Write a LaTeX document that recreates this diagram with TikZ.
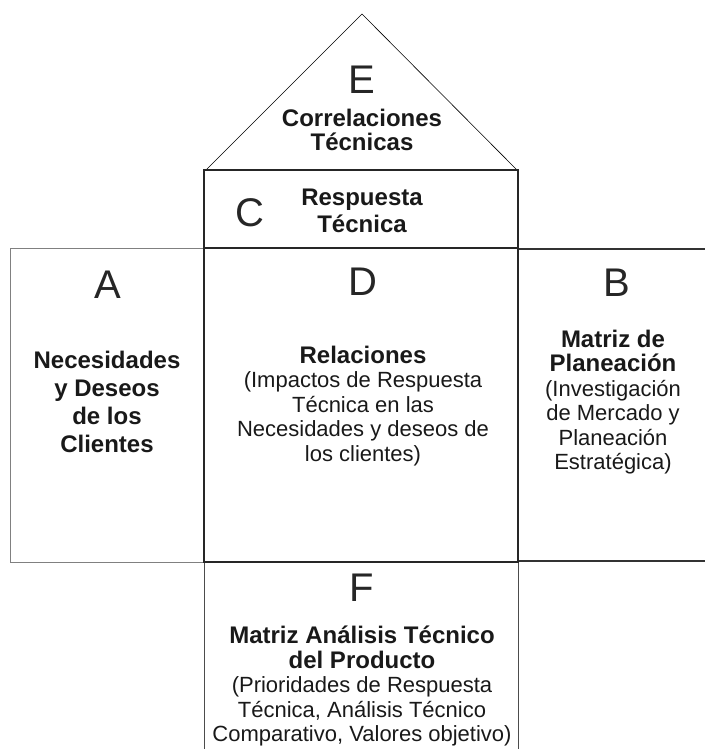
\documentclass[tikz,border=0pt]{standalone}
\usepackage{fontspec}
\setmainfont{Liberation Sans}
\newcommand{\titulo}[1]{{\bfseries\fontsize{24}{25}\selectfont #1}}
\begin{document}
\begin{tikzpicture}[x=1pt,y=-1pt,
  letra/.style={font=\fontsize{40}{40}\selectfont, text=black!85, inner sep=0pt},
  texto/.style={align=center, text=black!90, inner sep=0pt, font=\fontsize{22}{24.5}\selectfont},
  grueso/.style={draw=black!85, line width=2pt},
  medio/.style={draw=black!80, line width=1.4pt},
  fino/.style={draw=black!50, line width=1pt}]
\useasboundingbox (0,0) rectangle (705,749);

% techo
\draw[line width=0.6pt] (206,170) -- (362,14) -- (517,170);

\draw[fino] (10,248) rectangle (204,562);
\draw[medio] (518,249) -- (705,249) (518,561) -- (705,561);
\draw[draw=black!70, line width=1pt] (204,562) -- (204,749) (518,562) -- (518,749);
\draw[grueso] (204,170) rectangle (518,248);
\draw[grueso] (204,248) rectangle (518,562);

\node[letra] (E) at (362,80) {E};
\node[texto] (corr) at (362,130) {\titulo{Correlaciones}\\\titulo{Técnicas}};

\node[letra] (C) at (250,213) {C};
\node[texto] (resp) at (362,211) {\titulo{Respuesta}\\[2pt]\titulo{Técnica}};

\node[letra] (A) at (108,285) {A};
\node[texto, font=\fontsize{22}{28}\selectfont] (nec) at (107,402)
  {\titulo{Necesidades}\\\titulo{y Deseos}\\\titulo{de los}\\\titulo{Clientes}};

\node[letra] (D) at (363,282) {D};
\node[texto] (rel) at (363,406)
  {\titulo{Relaciones}\\(Impactos de Respuesta\\Técnica en las\\Necesidades y deseos de\\los clientes)};

\node[letra] (B) at (617,283) {B};
\node[texto] (mat) at (613,402)
  {\titulo{Matriz de}\\\titulo{Planeación}\\(Investigación\\de Mercado y\\Planeación\\Estratégica)};

\node[letra] (F) at (362,588) {F};
\node[texto] (prod) at (362,686)
  {\titulo{Matriz Análisis Técnico}\\\titulo{del Producto}\\(Prioridades de Respuesta\\Técnica, Análisis Técnico\\Comparativo, Valores objetivo)};
\end{tikzpicture}
\end{document}
